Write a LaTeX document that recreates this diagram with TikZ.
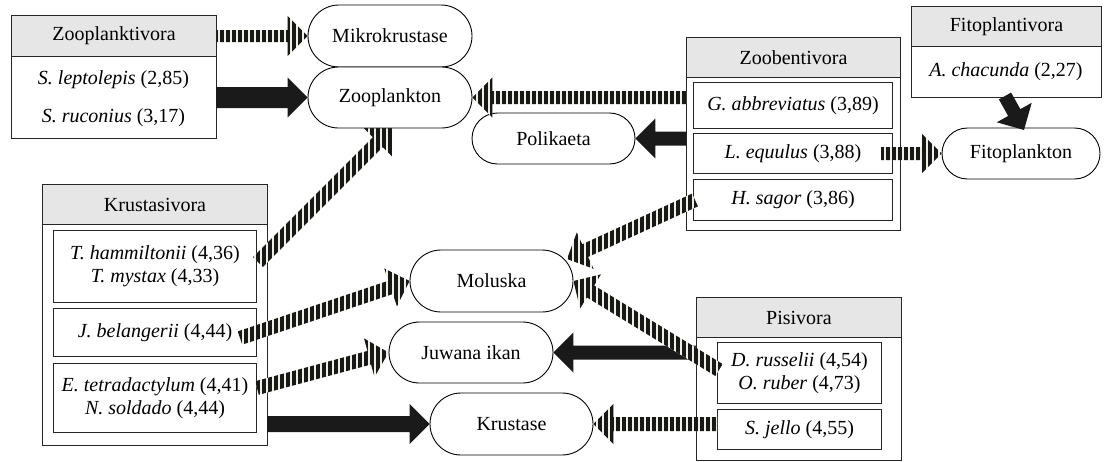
\documentclass[tikz,border=0pt]{standalone}
\usepackage{fontspec}
\setmainfont{Liberation Serif}
\usetikzlibrary{calc,shapes.misc,patterns.meta}
\definecolor{stripefg}{RGB}{24,24,24}
\definecolor{stripebg}{RGB}{238,238,226}
\definecolor{headgray}{RGB}{230,230,230}
\definecolor{darkfill}{RGB}{26,26,26}
\newcommand\blockarrow[5]{%
  \path ($(#3)!20pt!(#2)$) coordinate (hh);
  \path[#1] ($(#2)!#4!90:(#3)$) -- ($(hh)!#4!90:(#3)$) -- ($(hh)!20pt!90:(#3)$) -- (#3)
    -- ($(hh)!20pt!-90:(#3)$) -- ($(hh)!#4!-90:(#3)$) -- ($(#2)!#4!-90:(#3)$) -- cycle;}
\begin{document}
\begin{tikzpicture}[x=1pt,y=-1pt,
  font=\fontsize{20}{23}\selectfont,
  gbox/.style={draw=black!85,line width=1pt,fill=white,anchor=north west,inner sep=0pt},
  hbox/.style={draw=black!85,line width=1pt,fill=headgray,anchor=north west,inner sep=0pt,minimum height=40},
  ibox/.style={draw=black!85,line width=1pt,fill=white,anchor=north west,inner sep=0pt,align=center},
  stad/.style={rounded rectangle,draw=black,line width=0.9pt,fill=white,inner sep=0pt},
  striped/.style={preaction={fill=stripebg},pattern={Lines[angle=90,distance=6pt,line width=3.4pt]},pattern color=stripefg},
  solid/.style={fill=darkfill}]
\useasboundingbox (0,0) rectangle (1104,461);
% Zooplanktivora
\node[gbox,minimum width=205,minimum height=123] (zpv) at (11,15) {};
\node[hbox,minimum width=205,minimum height=41] (zpvh) at (11,15) {Zooplanktivora};
\node (sl) at (113.5,80) {\textit{S. leptolepis} (2,85)};
\node (sr) at (113.5,118) {\textit{S. ruconius} (3,17)};
% Zoobentivora
\node[gbox,minimum width=214,minimum height=193] (zbv) at (686,37) {};
\node[hbox,minimum width=214] (zbvh) at (686,37) {Zoobentivora};
\node[ibox,minimum width=199,minimum height=46] (ga) at (693,82) {\textit{G. abbreviatus} (3,89)};
\node[ibox,minimum width=199,minimum height=40] (le) at (693,133) {\textit{L. equulus} (3,88)};
\node[ibox,minimum width=199,minimum height=41] (hs) at (693,179) {\textit{H. sagor} (3,86)};
% Fitoplantivora
\node[gbox,minimum width=190,minimum height=91] (fpv) at (911,6) {};
\node[hbox,minimum width=190] (fpvh) at (911,6) {Fitoplantivora};
\node (ac) at (1006,72) {\textit{A. chacunda} (2,27)};
% Krustasivora
\node[gbox,minimum width=225,minimum height=261] (ksv) at (42,184) {};
\node[hbox,minimum width=225] (ksvh) at (42,184) {Krustasivora};
\node[ibox,minimum width=203,minimum height=72] (th) at (53,230) {\textit{T. hammiltonii} (4,36)\\\textit{T. mystax} (4,33)};
\node[ibox,minimum width=203,minimum height=48] (jb) at (53,308) {\textit{J. belangerii} (4,44)};
\node[ibox,minimum width=203,minimum height=69] (et) at (53,363) {\textit{E. tetradactylum} (4,41)\\\textit{N. soldado} (4,44)};
% Pisivora
\node[gbox,minimum width=205,minimum height=163] (psv) at (696,297) {};
\node[hbox,minimum width=205] (psvh) at (696,297) {Pisivora};
\node[ibox,minimum width=164,minimum height=61] (dr) at (717,342) {\textit{D. russelii} (4,54)\\\textit{O. ruber} (4,73)};
\node[ibox,minimum width=164,minimum height=40] (sj) at (717,409) {\textit{S. jello} (4,55)};
% arrow behind Zooplankton
\coordinate (t7) at (258,262);
\coordinate (p7) at (392,128);
\blockarrow{striped}{t7}{p7}{7pt}{}
% prey nodes
\node[stad,minimum width=164,minimum height=62] (mikro) at (390,36) {Mikrokrustase};
\node[stad,minimum width=164,minimum height=61] (zoopl) at (390,97.5) {Zooplankton};
\node[stad,minimum width=163,minimum height=51] (poli) at (553.5,138.5) {Polikaeta};
\node[stad,minimum width=158,minimum height=51] (fito) at (1021,153.5) {Fitoplankton};
\node[stad,minimum width=163,minimum height=62] (mol) at (491.5,281) {Moluska};
\node[stad,minimum width=164,minimum height=61] (juw) at (471,352.5) {Juwana ikan};
\node[stad,minimum width=163,minimum height=62] (krus) at (511.5,424) {Krustase};
% tails and tips
\coordinate (t2) at (216,97.5);
\coordinate (t3) at (686,97.5);
\coordinate (t4) at (686,138.5);
\coordinate (t5) at (881,153.5);
\coordinate (t6) at (1005,96);
\coordinate (p6) at (1024,130);
\coordinate (t8) at (240,338);
\coordinate (t9) at (257,388);
\coordinate (t10) at (267,424);
\coordinate (t11) at (696,352.5);
\coordinate (t12) at (717,424);
\coordinate (t13) at (719,370);
\coordinate (t14) at (695,200);
\coordinate (p14) at (567,259);
% arrows
\blockarrow{striped}{zpvh.east}{mikro.west}{6pt}{}
\blockarrow{solid}{t2}{zoopl.west}{10.5pt}{}
\blockarrow{striped}{t3}{zoopl.east}{6.5pt}{}
\blockarrow{solid}{t4}{poli.east}{7pt}{}
\blockarrow{striped}{t5}{fito.west}{6.5pt}{}
\blockarrow{solid}{t6}{p6}{7pt}{}
\blockarrow{striped}{t8}{mol.west}{7pt}{}
\blockarrow{striped}{t9}{juw.west}{7pt}{}
\blockarrow{solid}{t10}{krus.west}{8pt}{}
\blockarrow{solid}{t11}{juw.east}{7pt}{}
\blockarrow{striped}{t12}{krus.east}{7pt}{}
\blockarrow{striped}{t13}{mol.east}{7pt}{}
\blockarrow{striped}{t14}{p14}{7pt}{}
\end{tikzpicture}
\end{document}
